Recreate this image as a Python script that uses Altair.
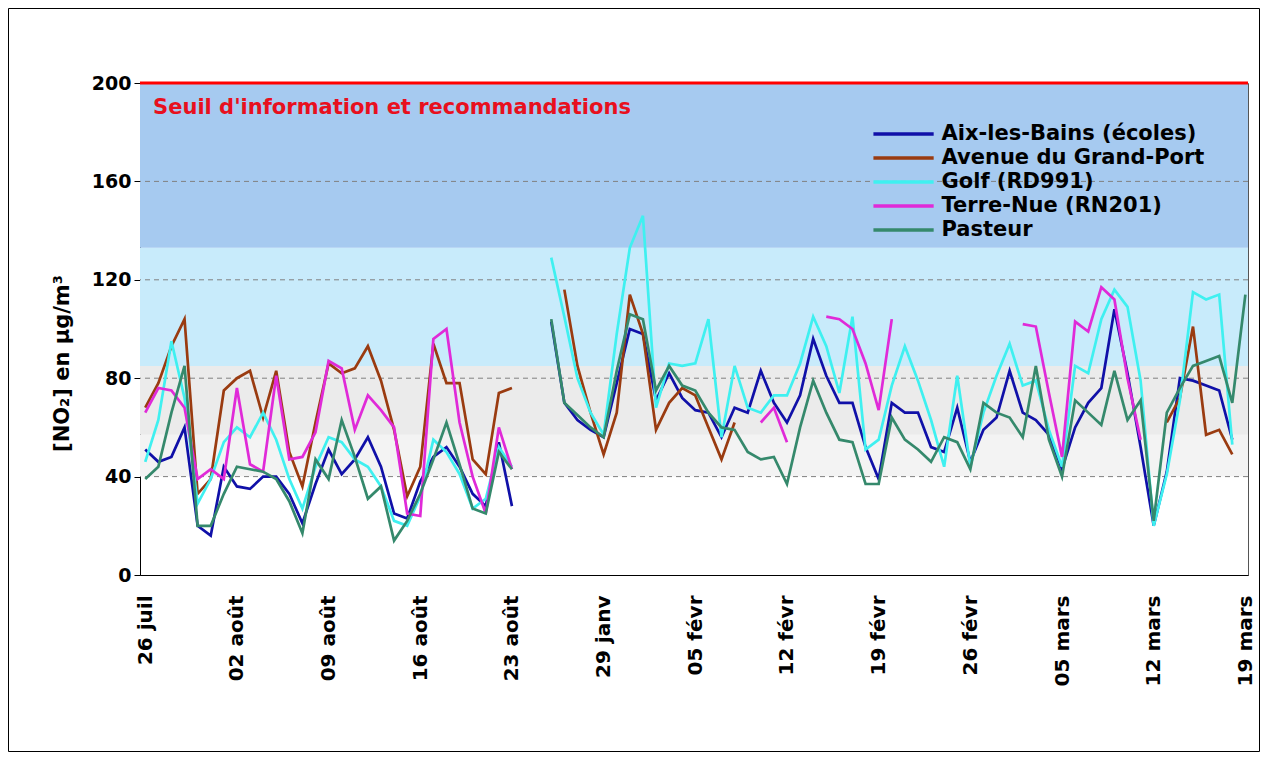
import altair as alt
import pandas as pd

N = None

# ---- data -------------------------------------------------------------
series_names = ["Aix-les-Bains (écoles)", "Avenue du Grand-Port", "Golf (RD991)",
                "Terre-Nue (RN201)", "Pasteur"]
series_colors = ["#1010a8", "#9a3b10", "#3ff0f0", "#e02ad8", "#35896c"]

tick_labels = ["26 juil", "02 août", "09 août", "16 août", "23 août", "29 janv",
               "05 févr", "12 févr", "19 févr", "26 févr", "05 mars", "12 mars", "19 mars"]

# day index 0..84 (26 juil .. 25 août, then 25 janv .. 19 mars)
aix = ([51, 46, 48, 60, 20, 16, 44, 36, 35, 40, 40, 33, 21, 37, 51, 41, 47, 56, 44, 25,
        23, 38, 48, 52, 44, 33, 28, 54, 28]
       + [N, N]
       + [103, 70, 63, 59, 56, 78, 100, 98, 71, 82, 72, 67, 66, 56, 68, 66, 83, 70, 62, 73,
          96, 81, 70, 70, 52, 39, 70, 66, 66, 52, 50, 68, 46, 59, 64, 83, 66, 63, 57, 43,
          60, 70, 76, 108, 82, 52, 20, 42, 80, 79, 77, 75, 55, N])

avenue = ([68, 78, 93, 104, 33, 39, 75, 80, 83, 64, 83, 50, 36, 62, 86, 82, 84, 93, 79, 59,
           32, 44, 94, 78, 78, 47, 41, 74, 76]
          + [N, N, N]
          + [116, 85, 66, 49, 66, 114, 98, 59, 70, 76, 73, 60, 47, 62]
          + [N] * 32
          + [62, 72, 101, 57, 59, 49]
          + [N])

golf = ([46, 63, 95, 72, 29, 39, 54, 60, 56, 66, 55, 39, 27, 44, 56, 54, 47, 44, 36, 22,
         20, 32, 55, 50, 41, 27, 31, 52, 44]
        + [N, N]
        + [129, 105, 80, 66, 57, 98, 133, 146, 68, 86, 85, 86, 104, 56, 85, 68, 66, 73, 73, 86,
           105, 93, 74, 105, 51, 55, 77, 93, 79, 63, 44, 81, 44, 66, 81, 94, 77, 79, 59, 44,
           85, 82, 104, 116, 109, 79, 20, 41, 71, 115, 112, 114, 53]
        + [N])

terre = ([66, 76, 75, 68, 39, 43, 39, 76, 45, 42, 81, 47, 48, 58, 87, 84, 59, 73, 67, 60,
          25, 24, 96, 100, 62, 40, 25, 60, 43]
         + [N] * 18
         + [62, 68, 54]
         + [N, N]
         + [105, 104, 100, 86, 67, 104]
         + [N] * 9
         + [102, 101, 74, 48, 103, 99, 117, 112, 80, 55]
         + [N] * 8)

pasteur = ([39, 44, 66, 85, 20, 20, 33, 44, 43, 42, 39, 30, 17, 47, 39, 63, 48, 31, 36, 14,
            22, 33, 47, 62, 45, 27, 25, 50, 43]
           + [N, N]
           + [104, 70, 65, 60, 56, 83, 106, 104, 75, 85, 77, 75, 66, 60, 59, 50, 47, 48, 37, 60,
              79, 66, 55, 54, 37, 37, 64, 55, 51, 46, 56, 54, 43, 70, 66, 64, 56, 85, 55, 40,
              71, 66, 61, 83, 63, 71, 22, 66, 76, 85, 87, 89, 70, 114])

zone_low = [40, 57, 85, 133]
zone_high = [57, 85, 133, 200]
zone_colors = ["#f3f3f3", "#ebebeb", "#c8ebfb", "#a6caf0"]

grid_values = [40, 80, 120, 160]
threshold = [200]
threshold_label = ["Seuil d'information et recommandations"]

# ---- tables -----------------------------------------------------------
rows = []
for name, vals in zip(series_names, [aix, avenue, golf, terre, pasteur]):
    seg, gap = 0, True
    for i, v in enumerate(vals):
        if v is None:
            gap = True
            continue
        if gap:
            seg += 1
            gap = False
        rows.append({"jour": i, "station": name, "no2": v, "seg": seg})
df = pd.DataFrame(rows)

zones = pd.DataFrame({"lo": zone_low, "hi": zone_high, "col": zone_colors})
grid = pd.DataFrame({"g": grid_values})
thr = pd.DataFrame({"s": threshold, "label": threshold_label})
leg = pd.DataFrame({"station": series_names, "k": list(range(len(series_names)))})

# ---- layout -----------------------------------------------------------
W, H = 1108, 492
FONT = "DejaVu Sans"
xs = alt.Scale(domain=[-0.4, 84.2], nice=False, zero=False)
ys = alt.Scale(domain=[0, 200], nice=False, zero=True)
cs = alt.Scale(domain=series_names, range=series_colors)

label_expr = "[" + ",".join("'" + t + "'" for t in tick_labels) + "][round(datum.value / 7)]"

x_axis = alt.Axis(values=list(range(0, 85, 7)), labelExpr=label_expr, labelAngle=270,
                  ticks=False, grid=False, domainColor="black", domainWidth=1,
                  labelFont=FONT, labelFontWeight="bold", labelFontSize=20,
                  labelColor="black", labelPadding=20, labelOverlap=False,
                  labelFlush=False, title=None)
y_axis = alt.Axis(values=[0, 40, 80, 120, 160, 200], grid=False, domainColor="black",
                  domainWidth=1, tickColor="black", tickSize=6, labelPadding=3,
                  labelFont=FONT, labelFontWeight="bold", labelFontSize=19,
                  labelColor="black", title="[NO₂] en µg/m³", titleFont=FONT,
                  titleFontWeight="bold", titleFontSize=21, titleColor="black",
                  titleAngle=270, titleX=-78, titleY=280, titleAlign="center",
                  titleBaseline="middle")


def X(field):
    return alt.X(field, scale=xs, axis=x_axis)


def Y(field):
    return alt.Y(field, scale=ys, axis=y_axis)


bands = alt.Chart(zones).mark_rect().encode(
    x=alt.value(0), x2=alt.value(W),
    y=Y("lo:Q"), y2="hi:Q",
    color=alt.Color("col:N", scale=None, legend=None))

grid_rules = alt.Chart(grid).mark_rule(color="#808080", strokeWidth=1,
                                       strokeDash=[5, 4]).encode(y=Y("g:Q"))

line_layers = []
for name, col in zip(series_names, series_colors):
    line_layers.append(
        alt.Chart(df).transform_filter(alt.datum.station == name)
        .mark_line(color=col, strokeWidth=2.7, strokeJoin="miter")
        .encode(x=X("jour:Q"), y=Y("no2:Q"), detail="seg:N"))

red_line = alt.Chart(thr).mark_rule(color="#ff0000", strokeWidth=3).encode(y=Y("s:Q"))

red_text = (alt.Chart(thr).transform_calculate(tx="0.6")
            .mark_text(align="left", baseline="middle", font=FONT, fontWeight="bold",
                       fontSize=21, color="#e8101e", dy=25)
            .encode(x=X("tx:Q"), y=Y("s:Q"), text="label:N"))

legend_base = alt.Chart(leg).transform_calculate(
    ly="179.3 - 9.76 * datum.k", lx1="55.6", lx2="60.2", lt="60.8")
legend_lines = legend_base.mark_rule(strokeWidth=3.5).encode(
    x=X("lx1:Q"), x2="lx2:Q", y=Y("ly:Q"),
    color=alt.Color("station:N", scale=cs, legend=None))
legend_text = legend_base.mark_text(align="left", baseline="middle", font=FONT,
                                    fontWeight="bold", fontSize=21, color="black").encode(
    x=X("lt:Q"), y=Y("ly:Q"), text="station:N")

frame = alt.Chart(pd.DataFrame({"f": [0]})).mark_rect(
    fill="transparent", stroke="black", strokeWidth=1).encode(
    x=alt.value(-131.5), x2=alt.value(W + 11.5),
    y=alt.value(-74.5), y2=alt.value(H + 176.5))

chart = alt.layer(bands, grid_rules, *line_layers, red_line, red_text,
                  legend_lines, legend_text, frame).properties(
    width=W, height=H,
    autosize=alt.AutoSizeParams(type="none"),
    padding={"left": 132, "top": 75, "right": 12, "bottom": 177},
    background="white",
).configure_view(stroke="#555555", strokeWidth=1)

chart.save("out.html", embed_options={"renderer": "svg", "actions": False})
